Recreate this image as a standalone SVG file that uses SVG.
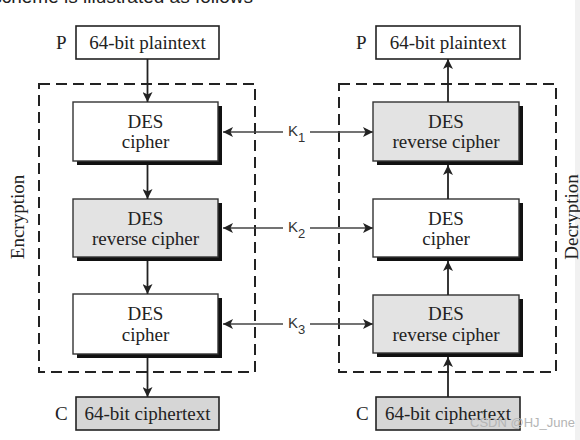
<svg xmlns="http://www.w3.org/2000/svg" width="580" height="440" viewBox="0 0 580 440">
<defs>
<marker id="ah" viewBox="0 0 10 10" refX="10" refY="5" markerWidth="10" markerHeight="10" markerUnits="userSpaceOnUse" orient="auto-start-reverse">
<path d="M0,0 L10,5 L0,10 L2.5,5 z" fill="#222"/>
</marker>
</defs>
<style>
.t{font-family:"Liberation Serif","Times New Roman",serif;font-size:19px;fill:#222;text-anchor:middle}
.lbl{font-family:"Liberation Serif","Times New Roman",serif;font-size:19px;fill:#222}
.io{stroke:#222;stroke-width:1.6}
.box{stroke:#333;stroke-width:1.4}
.sh{fill:#111}
.w{fill:#fff}
.g{fill:#e3e3e3}
.gc{fill:#d6d6d6}
.dash{fill:none;stroke:#222;stroke-width:2;stroke-dasharray:11,6}
.ar{stroke:#222;stroke-width:1.8;fill:none}
.kl{stroke:#444;stroke-width:1.6;fill:none}
.k{font-family:"Liberation Sans",Arial,sans-serif;font-size:15px;fill:#333}
.ks{font-family:"Liberation Sans",Arial,sans-serif;font-size:13px;fill:#333}
</style>
<rect x="0" y="0" width="580" height="440" fill="#fff"/>
<rect x="575" y="0" width="5" height="440" fill="#f1f1f1"/>
<text x="253" y="2.5" font-family="Liberation Sans,Arial,sans-serif" font-size="19" fill="#222" text-anchor="end">scheme is illustrated as follows</text>

<rect class="dash" x="39" y="84" width="216" height="288"/>
<rect class="dash" x="339" y="84" width="217" height="288"/>
<text class="lbl" transform="translate(24,217) rotate(-90)" text-anchor="middle">Encryption</text>
<text class="lbl" transform="translate(578,217) rotate(-90)" text-anchor="middle">Decryption</text>

<g id="enc-plain">
<text class="lbl" x="56" y="48.5">P</text>
<rect class="w io" x="76" y="26" width="143" height="33"/>
<text class="t" x="147.5" y="48.5">64-bit plaintext</text>
</g>
<g id="enc-des1">
<rect class="sh" x="77" y="106" width="145" height="59"/>
<rect class="w box" x="73" y="102" width="145" height="59"/>
<text class="t" x="145.5" y="128">DES</text>
<text class="t" x="145.5" y="148">cipher</text>
</g>
<g id="enc-des2">
<rect class="sh" x="77" y="203" width="145" height="58"/>
<rect class="g box" x="73" y="199" width="145" height="58"/>
<text class="t" x="145.5" y="225">DES</text>
<text class="t" x="145.5" y="245">reverse cipher</text>
</g>
<g id="enc-des3">
<rect class="sh" x="77" y="298" width="145" height="60"/>
<rect class="w box" x="73" y="294" width="145" height="60"/>
<text class="t" x="145.5" y="320">DES</text>
<text class="t" x="145.5" y="341">cipher</text>
</g>
<g id="enc-cipher">
<text class="lbl" x="55" y="419.5">C</text>
<rect class="gc io" x="76" y="397" width="143" height="33"/>
<text class="t" x="147.5" y="419.5">64-bit ciphertext</text>
</g>

<g id="dec-plain">
<text class="lbl" x="356" y="48.5">P</text>
<rect class="w io" x="376" y="26" width="144" height="33"/>
<text class="t" x="448" y="48.5">64-bit plaintext</text>
</g>
<g id="dec-des1">
<rect class="sh" x="377" y="106" width="146" height="59"/>
<rect class="g box" x="373" y="102" width="146" height="59"/>
<text class="t" x="446" y="128">DES</text>
<text class="t" x="446" y="148">reverse cipher</text>
</g>
<g id="dec-des2">
<rect class="sh" x="377" y="203" width="146" height="58"/>
<rect class="w box" x="373" y="199" width="146" height="58"/>
<text class="t" x="446" y="225">DES</text>
<text class="t" x="446" y="245">cipher</text>
</g>
<g id="dec-des3">
<rect class="sh" x="377" y="299" width="146" height="58"/>
<rect class="g box" x="373" y="295" width="146" height="58"/>
<text class="t" x="446" y="320">DES</text>
<text class="t" x="446" y="341">reverse cipher</text>
</g>
<g id="dec-cipher">
<text class="lbl" x="356" y="419.5">C</text>
<rect class="gc io" x="376" y="397" width="144" height="33"/>
<text class="t" x="448" y="419.5">64-bit ciphertext</text>
</g>

<g id="connectors">
<line class="ar" x1="147.5" y1="59" x2="147.5" y2="102" marker-end="url(#ah)"/>
<line class="ar" x1="147.5" y1="165" x2="147.5" y2="199" marker-end="url(#ah)"/>
<line class="ar" x1="147.5" y1="261" x2="147.5" y2="294" marker-end="url(#ah)"/>
<line class="ar" x1="147.5" y1="358" x2="147.5" y2="397" marker-end="url(#ah)"/>
<line class="ar" x1="448" y1="397" x2="448" y2="357" marker-end="url(#ah)"/>
<line class="ar" x1="448" y1="295" x2="448" y2="261" marker-end="url(#ah)"/>
<line class="ar" x1="448" y1="199" x2="448" y2="165" marker-end="url(#ah)"/>
<line class="ar" x1="448" y1="102" x2="448" y2="59" marker-end="url(#ah)"/>

<line class="kl" x1="283" y1="132" x2="223" y2="132" marker-end="url(#ah)"/>
<line class="kl" x1="310" y1="132" x2="373" y2="132" marker-end="url(#ah)"/>
<line class="kl" x1="283" y1="228" x2="223" y2="228" marker-end="url(#ah)"/>
<line class="kl" x1="310" y1="228" x2="373" y2="228" marker-end="url(#ah)"/>
<line class="kl" x1="283" y1="324" x2="223" y2="324" marker-end="url(#ah)"/>
<line class="kl" x1="310" y1="324" x2="373" y2="324" marker-end="url(#ah)"/>
<text class="k" x="288" y="136">K<tspan class="ks" dy="6">1</tspan></text>
<text class="k" x="288" y="232">K<tspan class="ks" dy="6">2</tspan></text>
<text class="k" x="288" y="328">K<tspan class="ks" dy="6">3</tspan></text>
</g>
<text x="470" y="427" font-family="Liberation Sans,Arial,sans-serif" font-size="13" fill="#b5b5b5">CSDN @HJ_June</text>
</svg>
